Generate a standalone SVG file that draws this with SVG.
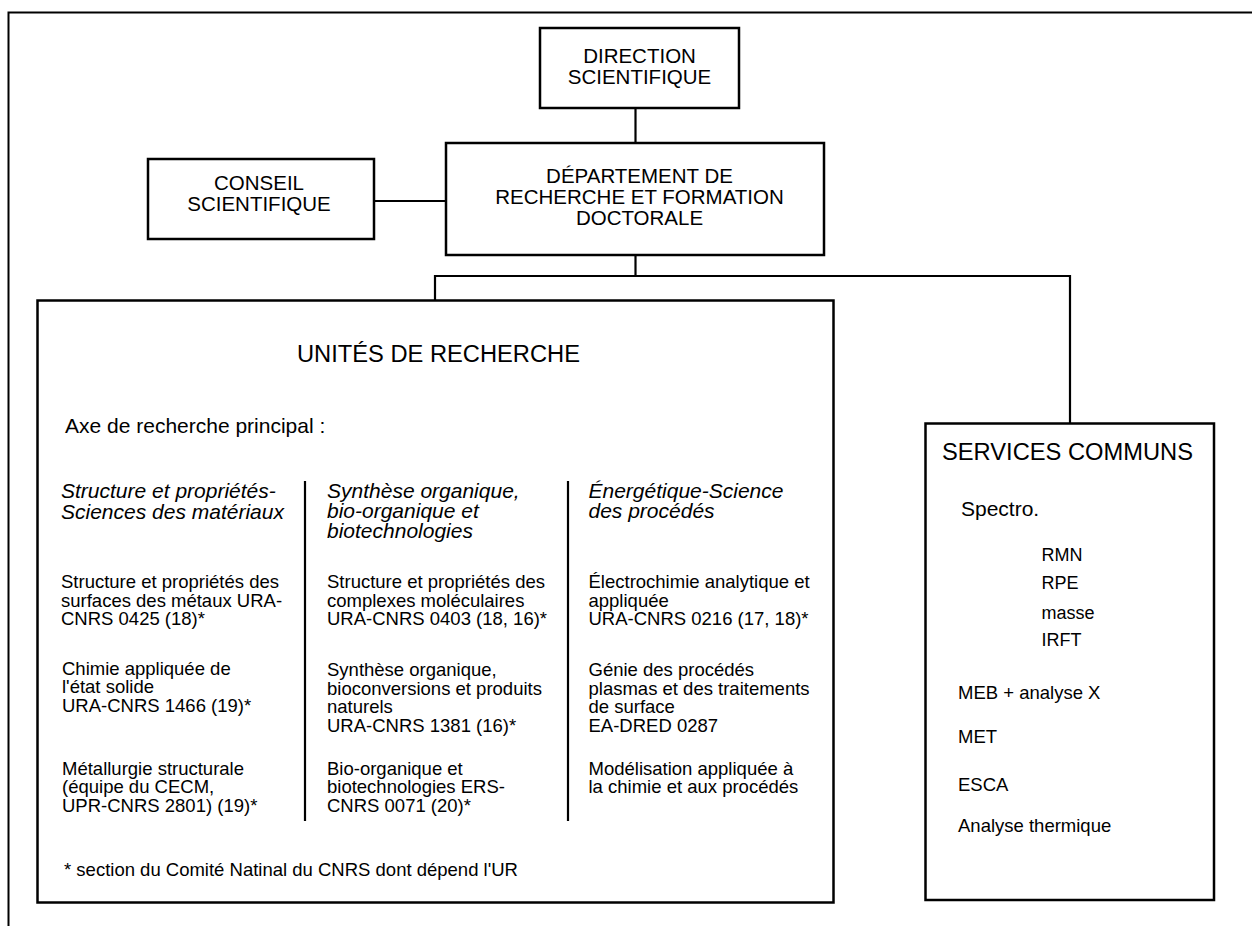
<svg xmlns="http://www.w3.org/2000/svg" width="1252" height="926" viewBox="0 0 1252 926">
<style>
text{font-family:"Liberation Sans",Arial,sans-serif;fill:#000}
.box{fill:#fff;stroke:#000;stroke-width:2.5}
.ln{fill:none;stroke:#000;stroke-width:2.2}
.hd{font-size:20.5px;text-anchor:middle}
.ttl{font-size:23.7px}
.ax{font-size:21px;font-style:italic}
.b{font-size:18.5px}
.s{font-size:18px}
</style>
<rect width="1252" height="926" fill="#fff"/>
<g id="frame"><path d="M8.5 926 V12.5 H1252" fill="none" stroke="#000" stroke-width="2"/></g>
<g id="connectors">
<path class="ln" d="M635.5 108 V143"/>
<path class="ln" d="M374 201 H446"/>
<path class="ln" d="M635.5 255 V276"/>
<path class="ln" d="M435 300 V276 H1070 V423"/>
</g>
<g id="direction">
<rect class="box" x="540" y="28" width="199" height="80"/>
<text class="hd" x="639.5" y="62.7">DIRECTION</text>
<text class="hd" x="639.5" y="84">SCIENTIFIQUE</text>
</g>
<g id="departement">
<rect class="box" x="446" y="143" width="378" height="112"/>
<text class="hd" x="639.5" y="182.7">DÉPARTEMENT DE</text>
<text class="hd" x="639.5" y="204">RECHERCHE ET FORMATION</text>
<text class="hd" x="639.5" y="225.3">DOCTORALE</text>
</g>
<g id="conseil">
<rect class="box" x="148" y="159" width="226" height="80"/>
<text class="hd" x="259" y="190">CONSEIL</text>
<text class="hd" x="259" y="211.3">SCIENTIFIQUE</text>
</g>
<g id="unites">
<rect class="box" x="37.5" y="300.5" width="796" height="602"/>
<text class="ttl" x="297" y="362">UNITÉS DE RECHERCHE</text>
<text class="b" x="65" y="433" style="font-size:21px">Axe de recherche principal :</text>
<path class="ln" d="M305 481 V821 M568 481 V821" stroke-width="2.5"/>
<text class="ax" x="61" y="498">Structure et propriétés-</text>
<text class="ax" x="61" y="519">Sciences des matériaux</text>
<text class="b" x="61" y="588.3">Structure et propriétés des</text>
<text class="b" x="61" y="606.7">surfaces des métaux URA-</text>
<text class="b" x="61" y="625">CNRS 0425 (18)*</text>
<text class="b" x="62" y="675">Chimie appliquée de</text>
<text class="b" x="62" y="693.3">l'état solide</text>
<text class="b" x="62" y="712">URA-CNRS 1466 (19)*</text>
<text class="b" x="62" y="775">Métallurgie structurale</text>
<text class="b" x="62" y="793.3">(équipe du CECM,</text>
<text class="b" x="62" y="812">UPR-CNRS 2801) (19)*</text>
<text class="ax" x="327" y="497.5">Synthèse organique,</text>
<text class="ax" x="327" y="517.5">bio-organique et</text>
<text class="ax" x="327" y="538">biotechnologies</text>
<text class="b" x="327" y="588.3">Structure et propriétés des</text>
<text class="b" x="327" y="606.7">complexes moléculaires</text>
<text class="b" x="327" y="625">URA-CNRS 0403 (18, 16)*</text>
<text class="b" x="327" y="676">Synthèse organique,</text>
<text class="b" x="327" y="694.5">bioconversions et produits</text>
<text class="b" x="327" y="713">naturels</text>
<text class="b" x="327" y="731.5">URA-CNRS 1381 (16)*</text>
<text class="b" x="327" y="775">Bio-organique et</text>
<text class="b" x="327" y="793.3">biotechnologies ERS-</text>
<text class="b" x="327" y="812">CNRS 0071 (20)*</text>
<text class="ax" x="588.5" y="497.5">Énergétique-Science</text>
<text class="ax" x="588.5" y="517.5">des procédés</text>
<text class="b" x="588.5" y="588.3">Électrochimie analytique et</text>
<text class="b" x="588.5" y="606.7">appliquée</text>
<text class="b" x="588.5" y="625">URA-CNRS 0216 (17, 18)*</text>
<text class="b" x="588.5" y="676">Génie des procédés</text>
<text class="b" x="588.5" y="694.5">plasmas et des traitements</text>
<text class="b" x="588.5" y="713">de surface</text>
<text class="b" x="588.5" y="731.5">EA-DRED 0287</text>
<text class="b" x="588.5" y="775">Modélisation appliquée à</text>
<text class="b" x="588.5" y="793.3">la chimie et aux procédés</text>
<text class="b" x="64" y="876">* section du Comité Natinal du CNRS dont dépend l'UR</text>
</g>
<g id="services">
<rect class="box" x="925.5" y="423.5" width="288.5" height="476.5"/>
<text class="ttl" x="942" y="460">SERVICES COMMUNS</text>
<text class="b" x="961" y="516" style="font-size:21px">Spectro.</text>
<text class="s" x="1041.5" y="561">RMN</text>
<text class="s" x="1041.5" y="589.3">RPE</text>
<text class="s" x="1041.5" y="619">masse</text>
<text class="s" x="1041.5" y="646">IRFT</text>
<text class="b" x="958" y="699">MEB + analyse X</text>
<text class="b" x="958" y="743">MET</text>
<text class="b" x="958" y="791">ESCA</text>
<text class="b" x="958" y="831.7">Analyse thermique</text>
</g>
</svg>
